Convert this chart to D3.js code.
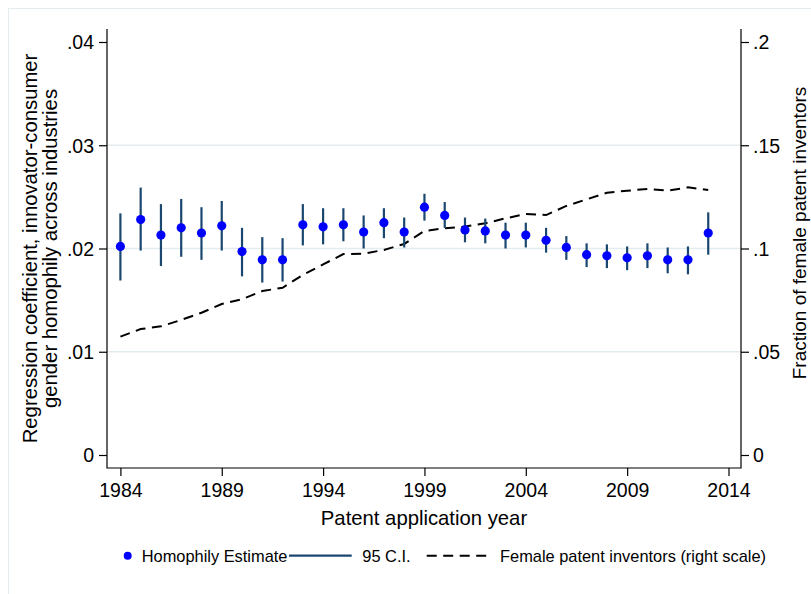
<!DOCTYPE html>
<html>
<head>
<meta charset="utf-8">
<script src="https://cdn.jsdelivr.net/npm/d3@7"></script>
<style>
  body { margin: 0; background: #fff; }
  text { font-family: "Liberation Sans", Arial, sans-serif; fill: #000; }
</style>
</head>
<body>
<div id="plot"></div>
<script>
// data
const years = [1984, 1985, 1986, 1987, 1988, 1989, 1990, 1991, 1992, 1993,
    1994, 1995, 1996, 1997, 1998, 1999, 2000, 2001, 2002, 2003,
    2004, 2005, 2006, 2007, 2008, 2009, 2010, 2011, 2012, 2013];
const estimate = [0.0202, 0.0228, 0.0213, 0.0220, 0.0215, 0.0222, 0.0197, 0.0189, 0.0189, 0.0223,
    0.0221, 0.0223, 0.0216, 0.0225, 0.0216, 0.0240, 0.0232, 0.0218, 0.0217, 0.0213,
    0.0213, 0.0208, 0.0201, 0.0194, 0.0193, 0.0191, 0.0193, 0.0189, 0.0189, 0.0215];
const ciLow = [0.0169, 0.0198, 0.0183, 0.0192, 0.0189, 0.0198, 0.0173, 0.0167, 0.0168, 0.0203,
    0.0204, 0.0207, 0.0200, 0.0210, 0.0201, 0.0227, 0.0220, 0.0206, 0.0205, 0.0200,
    0.0201, 0.0196, 0.0189, 0.0182, 0.0181, 0.0179, 0.0181, 0.0176, 0.0175, 0.0194];
const ciHigh = [0.0234, 0.0259, 0.0243, 0.0248, 0.0240, 0.0246, 0.0220, 0.0211, 0.0210, 0.0243,
    0.0239, 0.0239, 0.0232, 0.0239, 0.0230, 0.0253, 0.0245, 0.0230, 0.0229, 0.0225,
    0.0225, 0.0220, 0.0212, 0.0205, 0.0204, 0.0202, 0.0205, 0.0201, 0.0202, 0.0235];
const female = [0.0573, 0.0610, 0.0623, 0.0654, 0.0689, 0.0731, 0.0754, 0.0794, 0.0810, 0.0872,
    0.0923, 0.0973, 0.0975, 0.0993, 0.1022, 0.1085, 0.1098, 0.1106, 0.1122, 0.1146,
    0.1167, 0.1162, 0.1206, 0.1238, 0.1270, 0.1280, 0.1288, 0.1280, 0.1296, 0.1283];

const xTicks = [1984, 1989, 1994, 1999, 2004, 2009, 2014];
const leftTicks = [0, 0.01, 0.02, 0.03, 0.04];
const leftLabels = ["0", ".01", ".02", ".03", ".04"];
const rightTicks = [0, 0.05, 0.1, 0.15, 0.2];
const rightLabels = ["0", ".05", ".1", ".15", ".2"];
const legendItems = ["Homophily Estimate", "95 C.I.", "Female patent inventors (right scale)"];

const data = years.map((yr, i) => ({
    year: yr, est: estimate[i], lo: ciLow[i], hi: ciHigh[i], fem: female[i]
}));

const W = 811, H = 594;
// plot region edges
const plot = {left: 107, right: 741, top: 29, bottom: 468};

const svg = d3.select("#plot")
    .append("svg")
    .attr("width", W)
    .attr("height", H);

// outer graph region border
svg.append("rect")
    .attr("x", 8.5).attr("y", 8.5)
    .attr("width", W).attr("height", H)
    .attr("fill", "none")
    .attr("stroke", "#e4ecef")
    .attr("stroke-width", 1);

const x = d3.scaleLinear().domain([1984, 2014]).range([120.4, 728.5]);
const yL = d3.scaleLinear().domain([0, 0.04]).range([455, 42]);
const yR = d3.scaleLinear().domain([0, 0.2]).range([455, 42]);

// gridlines
svg.append("g")
    .selectAll("line")
    .data([0.01, 0.02, 0.03])
    .enter()
    .append("line")
    .attr("x1", plot.left).attr("x2", plot.right)
    .attr("y1", d => yL(d)).attr("y2", d => yL(d))
    .attr("stroke", "#e3ecef")
    .attr("stroke-width", 1.3);

// axes
const fs = 19.5;
const gx = svg.append("g")
    .attr("transform", "translate(0," + plot.bottom + ")")
    .call(d3.axisBottom(x).tickValues(xTicks).tickFormat(d3.format("d")).tickSize(8).tickSizeOuter(0));
const gl = svg.append("g")
    .attr("transform", "translate(" + plot.left + ",0)")
    .call(d3.axisLeft(yL).tickValues(leftTicks).tickFormat((d, i) => leftLabels[i]).tickSize(8).tickSizeOuter(0));
const gr = svg.append("g")
    .attr("transform", "translate(" + plot.right + ",0)")
    .call(d3.axisRight(yR).tickValues(rightTicks).tickFormat((d, i) => rightLabels[i]).tickSize(8).tickSizeOuter(0));

[gx, gl, gr].forEach(g => {
    g.select(".domain").remove();
    g.selectAll(".tick line").attr("stroke", "#000").attr("stroke-width", 1.2);
    g.selectAll(".tick text")
        .attr("font-size", fs)
        .attr("font-family", "Liberation Sans, Arial, sans-serif")
        .attr("fill", "#000");
});
gx.selectAll(".tick text").attr("dy", null).attr("y", 29);
gl.selectAll(".tick text").attr("x", -13).attr("dy", "0.35em");
gr.selectAll(".tick text").attr("x", 12).attr("dy", "0.35em");

// axis lines
svg.append("path")
    .attr("d", "M" + plot.left + "," + plot.top + "V" + plot.bottom + "H" + plot.right + "V" + plot.top)
    .attr("fill", "none")
    .attr("stroke", "#000")
    .attr("stroke-width", 1.2);

// female inventors dashed line
svg.append("path")
    .datum(data)
    .attr("fill", "none")
    .attr("stroke", "#000")
    .attr("stroke-width", 2)
    .attr("stroke-dasharray", "10,6.5")
    .attr("d", d3.line()
        .x(d => x(d.year))
        .y(d => yR(d.fem))
    );

// confidence intervals
svg.append("g")
    .selectAll("line")
    .data(data)
    .enter()
    .append("line")
    .attr("x1", d => x(d.year)).attr("x2", d => x(d.year))
    .attr("y1", d => yL(d.lo)).attr("y2", d => yL(d.hi))
    .attr("stroke", "#1a476f")
    .attr("stroke-width", 2.2);

// point estimates
svg.append("g")
    .selectAll("circle")
    .data(data)
    .enter()
    .append("circle")
    .attr("cx", d => x(d.year))
    .attr("cy", d => yL(d.est))
    .attr("r", 4.6)
    .attr("fill", "#0000ff");

// axis titles
svg.append("text")
    .attr("x", (plot.left + plot.right) / 2)
    .attr("y", 525)
    .attr("text-anchor", "middle")
    .attr("font-size", 20.3)
    .text("Patent application year");

const leftTitle = svg.append("text")
    .attr("transform", "translate(0," + yL(0.02) + ") rotate(-90)")
    .attr("text-anchor", "middle")
    .attr("font-size", 20.3);
leftTitle.append("tspan").attr("x", 0).attr("y", 37).text("Regression coefficient, innovator-consumer");
leftTitle.append("tspan").attr("x", 0).attr("y", 57).text("gender homophily across industries");

svg.append("text")
    .attr("transform", "translate(806,233) rotate(-90)")
    .attr("text-anchor", "middle")
    .attr("font-size", 19)
    .text("Fraction of female patent inventors");

// legend
const ly = 555.7;
const lfs = 16.4;
svg.append("circle").attr("cx", 127.7).attr("cy", ly).attr("r", 4).attr("fill", "#0000ff");
svg.append("text").attr("x", 141.7).attr("y", ly + 6).attr("font-size", lfs).text(legendItems[0]);
svg.append("line")
    .attr("x1", 289).attr("x2", 351.7).attr("y1", ly).attr("y2", ly)
    .attr("stroke", "#1a476f").attr("stroke-width", 2.2);
svg.append("text").attr("x", 362.3).attr("y", ly + 6).attr("font-size", lfs).text(legendItems[1]);
svg.append("line")
    .attr("x1", 426.7).attr("x2", 489.3).attr("y1", ly).attr("y2", ly)
    .attr("stroke", "#000").attr("stroke-width", 2)
    .attr("stroke-dasharray", "10,6.5");
svg.append("text").attr("x", 500).attr("y", ly + 6).attr("font-size", lfs).text(legendItems[2]);
</script>
</body>
</html>
